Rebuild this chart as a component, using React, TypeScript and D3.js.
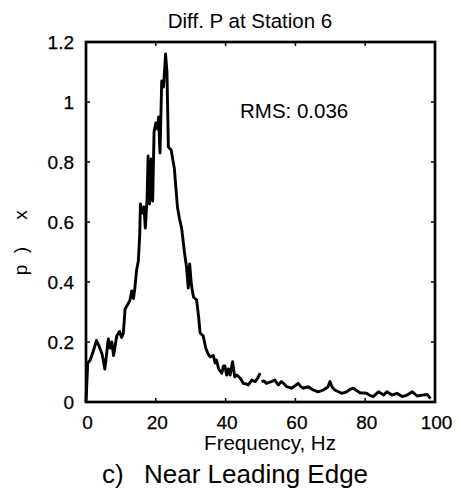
import React from "react";
import * as d3 from "d3";

const titleText = "Diff. P at Station 6";
const xLabelText = "Frequency, Hz";
const yLabelGlyphs = ["p", ")", "x"];
const rmsText = "RMS: 0.036";
const captionPrefix = "c)";
const captionText = "Near Leading Edge";

const xTicks = [0, 20, 40, 60, 80, 100];
const yTicks = [0, 0.2, 0.4, 0.6, 0.8, 1, 1.2];

const freqLow = [0, 0.5, 1.2, 2.1, 3.0, 3.6, 4.1, 4.6, 5.4, 6.0, 6.4, 6.9, 7.4, 7.9, 8.4, 8.8, 9.6, 10.2, 10.7, 11.2, 11.7, 12.2, 12.6, 13.1, 13.6, 14.0, 14.5, 15.0, 15.4, 15.6, 16.2, 16.6, 17.0, 17.5, 17.8, 18.2, 18.7, 19.1, 19.5, 20.0, 20.5, 20.8, 21.2, 21.7, 22.2, 22.8, 23.2, 23.6, 24.4, 25.3, 26.2, 26.8, 27.4, 28.2, 28.8, 29.3, 29.7, 30.2, 30.8, 31.7, 32.3, 32.7, 33.6, 34.3, 35.0, 35.6, 36.5, 37.0, 37.4, 38.0, 38.9, 39.4, 39.8, 40.3, 40.8, 41.3, 42.0, 42.6, 43.2, 44.2, 45.1, 46.0, 46.5, 47.5, 48.5, 49.2, 49.9];
const valLow = [0.0, 0.13, 0.14, 0.17, 0.205, 0.19, 0.175, 0.16, 0.11, 0.17, 0.21, 0.18, 0.2, 0.155, 0.19, 0.22, 0.235, 0.215, 0.23, 0.31, 0.32, 0.33, 0.34, 0.37, 0.345, 0.38, 0.44, 0.47, 0.56, 0.66, 0.63, 0.65, 0.58, 0.68, 0.82, 0.66, 0.81, 0.67, 0.9, 0.93, 0.91, 0.95, 0.83, 1.07, 1.05, 1.16, 1.1, 0.85, 0.84, 0.78, 0.65, 0.61, 0.58, 0.5, 0.45, 0.38, 0.46, 0.39, 0.35, 0.34, 0.28, 0.23, 0.22, 0.18, 0.16, 0.15, 0.155, 0.13, 0.14, 0.11, 0.096, 0.12, 0.12, 0.09, 0.11, 0.09, 0.134, 0.084, 0.09, 0.079, 0.062, 0.06, 0.057, 0.073, 0.068, 0.08, 0.096];

const freqHigh = [50.3, 51.0, 51.7, 52.4, 53.1, 54.1, 55.1, 56.0, 56.8, 57.5, 58.9, 60.0, 60.8, 61.5, 62.3, 63.7, 65.1, 66.5, 68.0, 69.3, 69.9, 70.5, 71.3, 72.2, 73.2, 74.7, 75.6, 76.6, 77.5, 78.5, 80.4, 81.3, 82.3, 83.8, 85.3, 86.2, 87.7, 89.1, 90.6, 92.0, 93.5, 94.9, 96.3, 97.8, 98.7];
const valHigh = [0.068, 0.07, 0.062, 0.065, 0.068, 0.073, 0.057, 0.068, 0.06, 0.051, 0.046, 0.055, 0.062, 0.052, 0.046, 0.051, 0.04, 0.034, 0.04, 0.05, 0.068, 0.05, 0.04, 0.035, 0.029, 0.034, 0.042, 0.046, 0.038, 0.031, 0.029, 0.022, 0.018, 0.034, 0.023, 0.034, 0.023, 0.029, 0.018, 0.023, 0.034, 0.02, 0.023, 0.025, 0.011];

const W = 459;
const H = 492;
const FONT = "'Liberation Sans', Arial, Helvetica, sans-serif";

export default function App() {
  const x = d3.scaleLinear().domain([0, 100]).range([86, 435]);
  const y = d3.scaleLinear().domain([0, 1.2]).range([402, 42]);
  const line = d3
    .line<[number, number]>()
    .x((d) => x(d[0]))
    .y((d) => y(d[1]));
  const segLow = freqLow.map((f, i) => [f, valLow[i]] as [number, number]);
  const segHigh = freqHigh.map((f, i) => [f, valHigh[i]] as [number, number]);
  const [x0, x1] = x.range();
  const [y0, y1] = y.range();
  const tickLen = 4;
  const fmtY = d3.format("~g");

  return (
    <svg
      width={W}
      height={H}
      style={{ position: "absolute", left: 0, top: 0, background: "#fff" }}
      fontFamily={FONT}
    >
      <rect x={0} y={0} width={W} height={H} fill="#fff" />
      {/* data */}
      <path d={line(segLow) || ""} fill="none" stroke="#000" strokeWidth={2.9} strokeLinejoin="round" />
      <path d={line(segHigh) || ""} fill="none" stroke="#000" strokeWidth={2.9} strokeLinejoin="round" />
      {/* ticks */}
      {xTicks.map((t) => (
        <g key={"xt" + t}>
          <line x1={x(t)} x2={x(t)} y1={y0} y2={y0 - tickLen} stroke="#000" strokeWidth={1.5} />
          <line x1={x(t)} x2={x(t)} y1={y1} y2={y1 + tickLen} stroke="#000" strokeWidth={1.5} />
          <text x={x(t) + 1.5} y={429} textAnchor="middle" fontSize={19} stroke="#000" strokeWidth={0.25}>
            {t}
          </text>
        </g>
      ))}
      {yTicks.map((t) => (
        <g key={"yt" + t}>
          <line x1={x0} x2={x0 + tickLen} y1={y(t)} y2={y(t)} stroke="#000" strokeWidth={1.5} />
          <line x1={x1} x2={x1 - tickLen} y1={y(t)} y2={y(t)} stroke="#000" strokeWidth={1.5} />
          <text x={74} y={y(t)} dy="0.36em" textAnchor="end" fontSize={19} stroke="#000" strokeWidth={0.25}>
            {fmtY(t)}
          </text>
        </g>
      ))}
      {/* frame */}
      <rect x={x0} y={y1} width={x1 - x0} height={y0 - y1} fill="none" stroke="#000" strokeWidth={2.7} />
      {/* title */}
      <text x={250} y={28} textAnchor="middle" fontSize={20.5}>
        {titleText}
      </text>
      {/* RMS */}
      <text x={240} y={118} fontSize={20.5}>
        {rmsText}
      </text>
      {/* x label */}
      <text x={270} y={450} textAnchor="middle" fontSize={20.5}>
        {xLabelText}
      </text>
      {/* y label */}
      <g transform="translate(27,0)">
        {yLabelGlyphs.map((g, i) => (
          <text
            key={"yl" + i}
            transform={`translate(0,${[270, 250, 215][i]}) rotate(-90)`}
            textAnchor="middle"
            fontSize={19}
          >
            {g}
          </text>
        ))}
      </g>
      {/* caption */}
      <text x={102} y={483} fontSize={26}>
        {captionPrefix}
      </text>
      <text x={144} y={483} fontSize={26}>
        {captionText}
      </text>
    </svg>
  );
}
